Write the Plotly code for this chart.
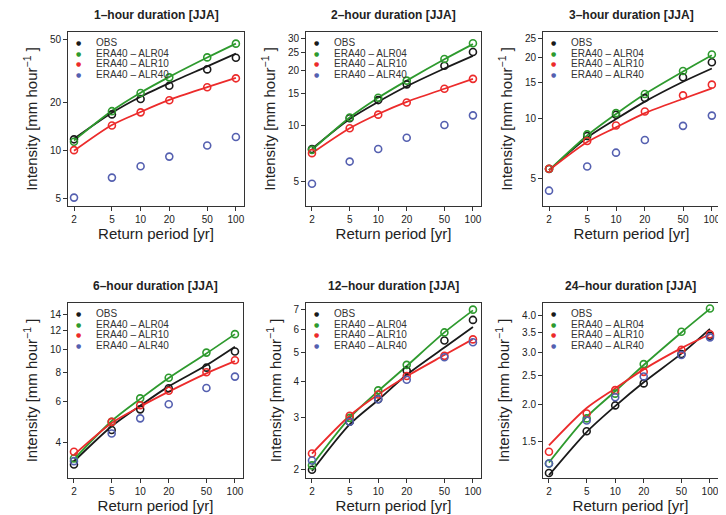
import plotly.graph_objects as go

# ---------------- data ----------------
return_period = [2, 5, 10, 20, 50, 100]
x_ticks = [2, 5, 10, 20, 50, 100]
series_names = ["OBS", "ERA40 \u2013 ALR04", "ERA40 \u2013 ALR10", "ERA40 \u2013 ALR40"]
durations = ["1", "2", "3", "6", "12", "24"]

# observed / simulated return levels (points)
obs_1h = [11.8, 16.9, 21.1, 25.5, 32.3, 38.2]
alr04_1h = [11.4, 17.7, 23.0, 28.8, 38.4, 46.8]
alr10_1h = [10.1, 14.4, 17.4, 20.7, 25.0, 28.4]
alr40_1h = [5.1, 6.8, 8.0, 9.2, 10.8, 12.2]
fit_obs_1h = [11.9, 17.3, 21.8, 26.5, 33.7, 40.5]
fit_alr04_1h = [11.6, 17.8, 23.1, 29.0, 38.3, 46.8]
fit_alr10_1h = [10.0, 14.5, 17.5, 20.8, 25.0, 28.6]

obs_2h = [7.48, 11.0, 13.8, 16.8, 21.2, 25.2]
alr04_2h = [7.4, 11.1, 14.2, 17.6, 23.1, 28.1]
alr10_2h = [7.1, 9.7, 11.5, 13.4, 15.9, 18.0]
alr40_2h = [4.84, 6.39, 7.48, 8.61, 10.1, 11.4]
fit_obs_2h = [7.5, 10.9, 13.5, 16.4, 20.5, 24.0]
fit_alr04_2h = [7.4, 11.1, 14.2, 17.6, 23.0, 27.8]
fit_alr10_2h = [7.1, 9.7, 11.6, 13.5, 15.9, 18.0]

obs_3h = [5.58, 8.15, 10.4, 12.6, 16.0, 19.0]
alr04_3h = [5.6, 8.3, 10.6, 13.2, 17.2, 20.8]
alr10_3h = [5.6, 7.7, 9.2, 10.8, 13.0, 14.7]
alr40_3h = [4.35, 5.74, 6.73, 7.78, 9.16, 10.3]
fit_obs_3h = [5.5, 8.0, 9.9, 12.1, 15.2, 17.7]
fit_alr04_3h = [5.5, 8.2, 10.5, 13.2, 17.1, 20.6]
fit_alr10_3h = [5.5, 7.6, 9.0, 10.6, 12.5, 14.1]

obs_6h = [3.23, 4.53, 5.55, 6.82, 8.35, 9.78]
alr04_6h = [3.43, 4.91, 6.18, 7.57, 9.68, 11.6]
alr10_6h = [3.66, 4.91, 5.78, 6.66, 7.98, 8.98]
alr40_6h = [3.34, 4.38, 5.08, 5.83, 6.84, 7.65]
fit_obs_6h = [3.33, 4.7, 5.75, 6.95, 8.55, 10.25]
fit_alr04_6h = [3.4, 4.95, 6.15, 7.55, 9.6, 11.6]
fit_alr10_6h = [3.55, 4.85, 5.7, 6.6, 7.9, 8.9]

obs_12h = [2.0, 2.91, 3.47, 4.34, 5.49, 6.45]
alr04_12h = [2.07, 3.0, 3.72, 4.54, 5.85, 6.99]
alr10_12h = [2.27, 3.05, 3.60, 4.16, 4.87, 5.54]
alr40_12h = [2.15, 2.91, 3.47, 4.04, 4.82, 5.42]
fit_obs_12h = [1.98, 2.85, 3.45, 4.2, 5.2, 6.1]
fit_alr04_12h = [2.07, 3.0, 3.7, 4.5, 5.85, 6.95]
fit_alr10_12h = [2.27, 3.05, 3.6, 4.15, 4.9, 5.55]

obs_24h = [1.18, 1.63, 1.99, 2.36, 2.96, 3.41]
alr04_24h = [1.27, 1.80, 2.18, 2.74, 3.52, 4.21]
alr10_24h = [1.39, 1.87, 2.24, 2.58, 3.06, 3.45]
alr40_24h = [1.27, 1.77, 2.12, 2.49, 2.94, 3.37]
fit_obs_24h = [1.16, 1.62, 1.98, 2.38, 2.97, 3.6]
fit_alr04_24h = [1.28, 1.82, 2.22, 2.72, 3.5, 4.2]
fit_alr10_24h = [1.46, 1.95, 2.27, 2.63, 3.1, 3.45]

y_ticks_1h = [5, 10, 20, 50]
y_ticks_2h = [5, 10, 15, 20, 25, 30]
y_ticks_3h = [5, 10, 15, 20, 25]
y_ticks_6h = [4, 6, 8, 10, 12, 14]
y_ticks_12h = [2, 3, 4, 5, 6, 7]
y_ticks_24h = [1.5, 2.0, 2.5, 3.0, 3.5, 4.0]
y_ticklabels_24h = ["1.5", "2.0", "2.5", "3.0", "3.5", "4.0"]

# ---------------- layout helpers ----------------
OFF = 8                      # page body margin of the browser
W, H = 726 - OFF, 515 - OFF  # figure size so that it fills the window
colors = ["#1a1a1a", "#2e9a2e", "#ec2b2b", "#5560b0"]
FONT = "Liberation Sans, Arial, Helvetica, sans-serif"

points = [
    [obs_1h, alr04_1h, alr10_1h, alr40_1h],
    [obs_2h, alr04_2h, alr10_2h, alr40_2h],
    [obs_3h, alr04_3h, alr10_3h, alr40_3h],
    [obs_6h, alr04_6h, alr10_6h, alr40_6h],
    [obs_12h, alr04_12h, alr10_12h, alr40_12h],
    [obs_24h, alr04_24h, alr10_24h, alr40_24h],
]
fits = [
    [fit_obs_1h, fit_alr04_1h, fit_alr10_1h],
    [fit_obs_2h, fit_alr04_2h, fit_alr10_2h],
    [fit_obs_3h, fit_alr04_3h, fit_alr10_3h],
    [fit_obs_6h, fit_alr04_6h, fit_alr10_6h],
    [fit_obs_12h, fit_alr04_12h, fit_alr10_12h],
    [fit_obs_24h, fit_alr04_24h, fit_alr10_24h],
]
yticks = [y_ticks_1h, y_ticks_2h, y_ticks_3h, y_ticks_6h, y_ticks_12h, y_ticks_24h]
yticktext = [None, None, None, None, None, y_ticklabels_24h]

# plot boxes in window pixels: left, right, top, bottom
boxes = [
    (68, 244, 32, 206),
    (306, 481, 32, 206),
    (543, 720, 32, 206),
    (68, 243, 303, 478),
    (306, 481, 303, 478),
    (543, 718, 303, 478),
]
# log10 y ranges
yranges = [
    (0.655, 1.743),
    (0.564, 1.510),
    (0.562, 1.430),
    (0.452, 1.197),
    (0.273, 0.867),
    (0.055, 0.643),
]
xrange_log = (0.238, 2.085)


def px(v):
    return (v - OFF) / W


def py(v):
    return 1 - (v - OFF) / H


fig = go.Figure()
annotations = []

for i in range(6):
    ax = "" if i == 0 else str(i + 1)
    xref, yref = "x" + ax, "y" + ax
    l, r, t, b = boxes[i]
    # fitted curves
    for k in range(3):
        fig.add_trace(go.Scatter(
            x=return_period, y=fits[i][k], mode="lines",
            line=dict(color=colors[k], width=1.8, shape="spline", smoothing=0.8),
            xaxis=xref, yaxis=yref, showlegend=False, hoverinfo="skip"))
    # points
    for k in range(4):
        fig.add_trace(go.Scatter(
            x=return_period, y=points[i][k], mode="markers",
            marker=dict(symbol="circle-open", size=7, color=colors[k],
                        line=dict(width=1.6, color=colors[k])),
            xaxis=xref, yaxis=yref, showlegend=False, name=series_names[k]))

    xa = dict(domain=[px(l), px(r)], type="log", range=list(xrange_log),
              tickvals=x_ticks, ticktext=[str(v) for v in x_ticks],
              ticks="outside", ticklen=4, tickwidth=1, tickcolor="#333",
              showline=True, linecolor="#333", linewidth=1, mirror=True,
              showgrid=False, zeroline=False, anchor=yref,
              tickfont=dict(size=10, color="#222", family=FONT),
              title=dict(text="Return period [yr]", standoff=2,
                         font=dict(size=15, color="#222", family=FONT)))
    ya = dict(domain=[py(b), py(t)], type="log", range=list(yranges[i]),
              tickvals=yticks[i],
              ticktext=yticktext[i] if yticktext[i] else [str(v) for v in yticks[i]],
              ticks="outside", ticklen=4, tickwidth=1, tickcolor="#333",
              showline=True, linecolor="#333", linewidth=1, mirror=True,
              showgrid=False, zeroline=False, anchor=xref,
              tickfont=dict(size=10, color="#222", family=FONT),
              title=dict(text="Intensity [mm hour<sup>\u22121</sup> ]", standoff=8,
                         font=dict(size=15, color="#222", family=FONT)))
    fig.layout["xaxis" + ax] = xa
    fig.layout["yaxis" + ax] = ya

    # panel title
    annotations.append(dict(
        text="<b>" + durations[i] + "\u2013hour duration [JJA]</b>",
        x=px((l + r) / 2), y=py(t - 17), xref="paper", yref="paper",
        xanchor="center", yanchor="middle", showarrow=False,
        font=dict(size=12, color="#222", family=FONT)))
    # legend (rows)
    for k in range(4):
        yy = py(t + 10.5 + 10.6 * k)
        annotations.append(dict(
            text="\u25cf", x=px(l + 10), y=yy, xref="paper", yref="paper",
            xanchor="center", yanchor="middle", showarrow=False,
            font=dict(size=6, color=colors[k], family="DejaVu Sans")))
        annotations.append(dict(
            text=series_names[k], x=px(l + 26), y=yy, xref="paper", yref="paper",
            xanchor="left", yanchor="middle", showarrow=False,
            font=dict(size=10, color="#333", family=FONT)))

fig.update_layout(
    width=W, height=H, autosize=False,
    margin=dict(l=0, r=0, t=0, b=0),
    paper_bgcolor="white", plot_bgcolor="white",
    showlegend=False, annotations=annotations,
    font=dict(family=FONT),
)

fig.write_html("out.html")
